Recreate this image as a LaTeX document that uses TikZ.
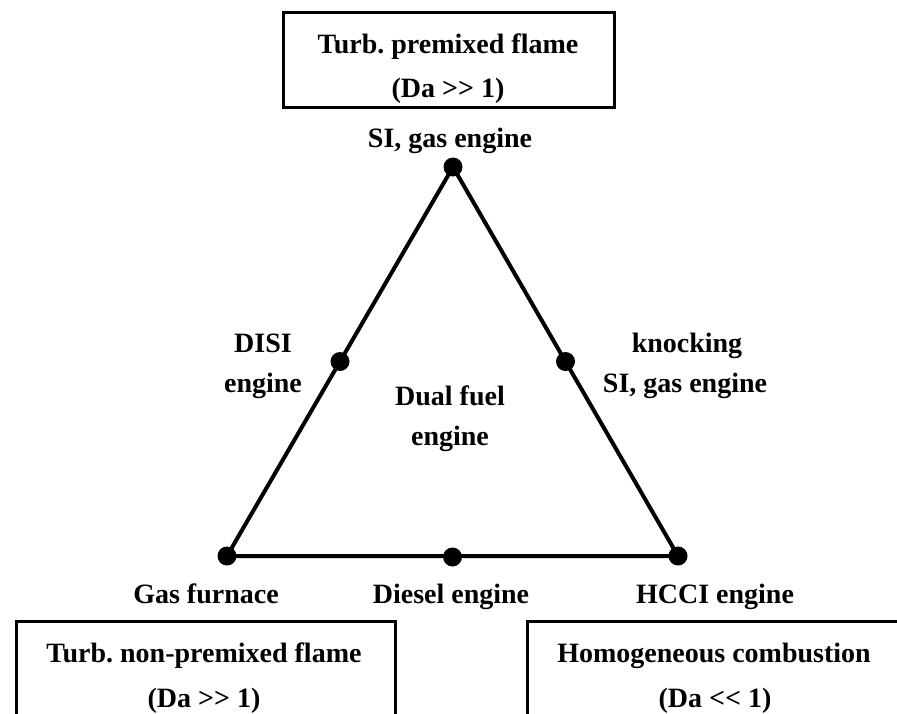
\documentclass[tikz,border=0pt]{standalone}
\usepackage{fontspec}
\setmainfont{Liberation Serif}
\frenchspacing
\begin{document}
\begin{tikzpicture}[x=1pt,y=-1pt,
  txt/.style={anchor=base,inner sep=0pt,font=\fontsize{28}{34}\selectfont\bfseries},
  dot/.style={circle,fill=black,inner sep=0pt,minimum size=19pt},
  edge/.style={line width=4pt,line join=round},
  regbox/.style={draw,line width=3pt,inner sep=0pt,rectangle}]
\clip (0,0) rectangle (897,713);
\fill[white] (0,0) rectangle (897,713);
% boxes
\node[regbox,minimum width=331pt,minimum height=95pt] (tbox) at (448.5,59.5) {};
\node[regbox,minimum width=379pt,minimum height=139pt] (lbox) at (205.5,690.5) {};
\node[regbox,minimum width=374pt,minimum height=139pt] (rbox) at (714,690.5) {};
% triangle vertices and midpoints
\coordinate (top) at (453,167);
\coordinate (bl) at (227,556);
\coordinate (br) at (678,556);
\draw[edge] (top) -- (bl) -- (br) -- cycle;
\node[dot] (dtop) at (top) {};
\node[dot] (dbl) at (bl) {};
\node[dot] (dbr) at (br) {};
\node[dot] (dleft) at (340,361.5) {};
\node[dot] (dright) at (565.5,361.5) {};
\node[dot] (dbot) at (452.5,557) {};
% texts
\node[txt] (t1) at (448,53) {Turb. premixed flame};
\node[txt] (t2) at (448,97) {(Da {>}{>} 1)};
\node[txt] (si) at (450,147) {SI, gas engine};
\node[txt] (disi1) at (263,352) {DISI};
\node[txt] (disi2) at (263,392) {engine};
\node[txt] (dual1) at (450,405) {Dual fuel};
\node[txt] (dual2) at (450,445) {engine};
\node[txt] (kn1) at (687,352) {knocking};
\node[txt] (kn2) at (685,392) {SI, gas engine};
\node[txt] (gas) at (206,603) {Gas furnace};
\node[txt] (dies) at (451,603) {Diesel engine};
\node[txt] (hcci) at (715,603) {HCCI engine};
\node[txt] (l1) at (204,662) {Turb. non-premixed flame};
\node[txt] (l2) at (204,707) {(Da {>}{>} 1)};
\node[txt] (r1) at (714,662) {Homogeneous combustion};
\node[txt] (r2) at (715,707) {(Da {<}{<} 1)};
\end{tikzpicture}
\end{document}
